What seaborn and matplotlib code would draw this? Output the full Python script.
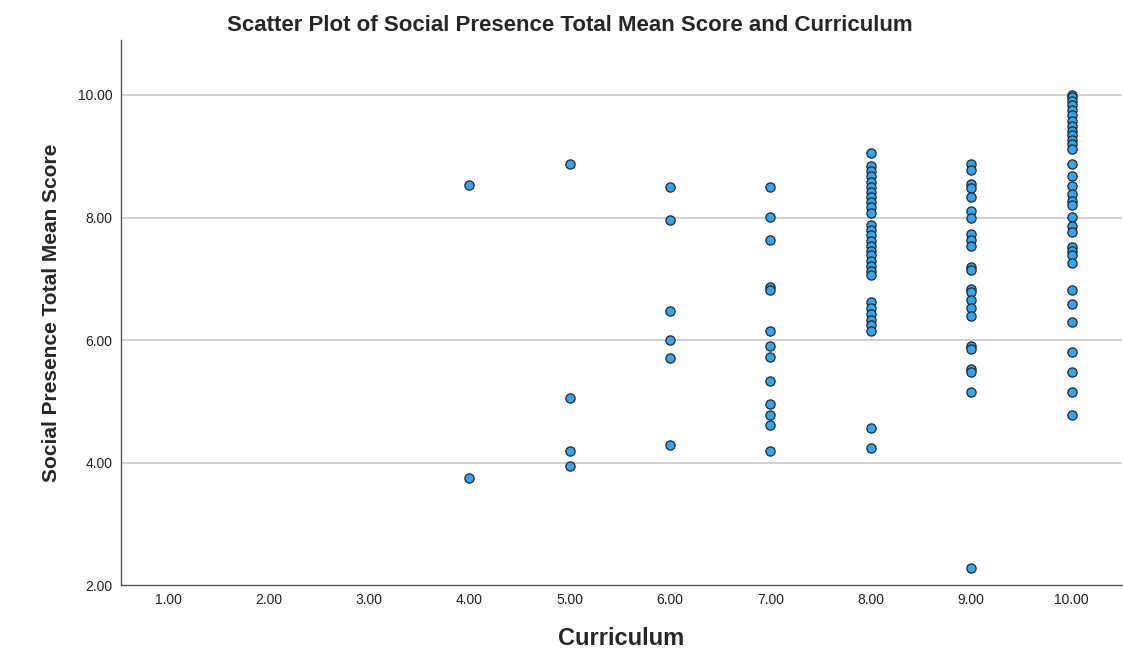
import pandas as pd
import matplotlib
matplotlib.use("Agg")
import matplotlib.pyplot as plt
import seaborn as sns

# ===== datos =====
curriculum_levels = [4, 5, 6, 7, 8, 9, 10]

scores_4 = [8.53, 3.75]
scores_5 = [8.87, 5.05, 4.18, 3.95]
scores_6 = [8.49, 7.96, 6.48, 6.00, 5.71, 4.28]
scores_7 = [8.49, 8.01, 7.63, 6.86, 6.82, 6.15, 5.91, 5.72, 5.33, 4.96, 4.78, 4.62, 4.19]
scores_8 = [9.06, 8.84, 8.76, 8.68, 8.58, 8.50, 8.42, 8.33, 8.25, 8.17, 8.08,
            7.88, 7.80, 7.71, 7.62, 7.54, 7.46, 7.38, 7.29, 7.21, 7.13, 7.06,
            6.62, 6.52, 6.42, 6.33, 6.24, 6.15, 4.57, 4.24]
scores_9 = [8.88, 8.78, 8.55, 8.48, 8.34, 8.11, 7.99, 7.73, 7.63, 7.53,
            7.20, 7.14, 6.83, 6.79, 6.66, 6.52, 6.40, 5.90, 5.86, 5.53, 5.48,
            5.15, 2.28]
scores_10 = [10.00, 9.96, 9.90, 9.83, 9.75, 9.67, 9.58, 9.50, 9.42, 9.35,
             9.27, 9.20, 9.12, 8.87, 8.68, 8.52, 8.38, 8.27, 8.21, 8.01,
             7.86, 7.76, 7.52, 7.46, 7.39, 7.25, 6.82, 6.58, 6.30, 5.81,
             5.48, 5.15, 4.77]

y_ticks = [2, 4, 6, 8, 10]
x_ticks = [1, 2, 3, 4, 5, 6, 7, 8, 9, 10]

all_scores = [scores_4, scores_5, scores_6, scores_7, scores_8, scores_9, scores_10]
rows = []
for nivel, lista in zip(curriculum_levels, all_scores):
    for s in lista:
        rows.append({"Curriculum": nivel, "Score": s})
df = pd.DataFrame(rows)

# ===== estilo =====
sns.set_style("white")
plt.rcParams["font.family"] = ["Liberation Sans", "DejaVu Sans"]

fig = plt.figure(figsize=(11.23, 6.6), dpi=100)
ax = fig.add_axes([0.1077, 0.1136, 0.8913, 0.826])

for yt in y_ticks[1:]:
    ax.axhline(yt, color="#c8c8c8", linewidth=1.2, zorder=0)

sns.scatterplot(data=df, x="Curriculum", y="Score", ax=ax,
                color="#2ea6f2", edgecolor="#262626", linewidth=0.9,
                s=44, zorder=3, legend=False)

ax.set_xlim(0.53, 10.5)
ax.set_ylim(2.0, 10.9)
ax.set_xticks(x_ticks)
ax.set_xticklabels([f"{v:.2f}" for v in x_ticks], fontsize=10)
ax.set_yticks(y_ticks)
ax.set_yticklabels([f"{v:.2f}" for v in y_ticks], fontsize=10)
ax.tick_params(axis="both", length=0, pad=6, colors="#222222")

for side in ["top", "right"]:
    ax.spines[side].set_visible(False)
for side in ["left", "bottom"]:
    ax.spines[side].set_color("#555555")
    ax.spines[side].set_linewidth(1.0)

ax.set_xlabel("Curriculum", fontsize=17, fontweight="bold", labelpad=14)
ax.set_ylabel("Social Presence Total Mean Score", fontsize=15, fontweight="bold", labelpad=12)
fig.suptitle("Scatter Plot of Social Presence Total Mean Score and Curriculum",
             fontsize=16, fontweight="bold", x=0.507, y=0.978)

plt.savefig("out.png", dpi=100)
plt.close()
